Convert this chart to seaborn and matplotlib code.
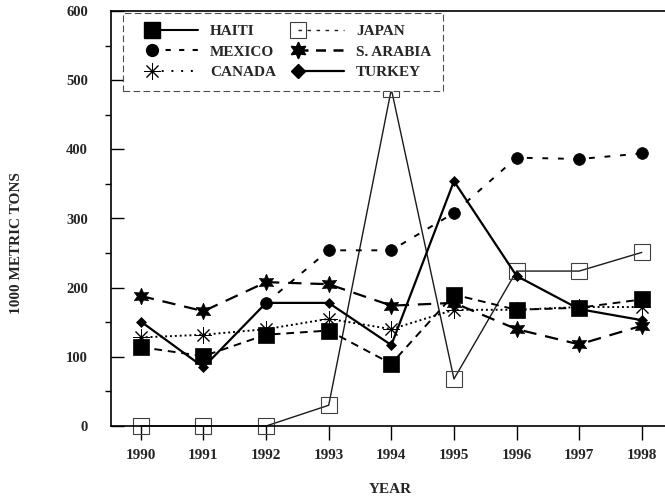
import numpy as np
import pandas as pd
import matplotlib
matplotlib.use("Agg")
import matplotlib.pyplot as plt
import seaborn as sns
from matplotlib.lines import Line2D
from matplotlib.legend_handler import HandlerLine2D
from matplotlib.ticker import MultipleLocator

# ---- data ----
years = [1990, 1991, 1992, 1993, 1994, 1995, 1996, 1997, 1998]
haiti = [114, 101, 132, 138, 90, 190, 168, 171, 183]
japan = [0, 0, 0, 30, 487, 68, 224, 224, 251]
mexico = [np.nan, np.nan, 178, 254, 254, 308, 388, 386, 394]
s_arabia = [188, 166, 208, 205, 174, 178, 140, 118, 145]
canada = [128, 132, 140, 155, 140, 168, 168, 172, 172]
turkey = [151, 85, 178, 178, 117, 354, 217, 169, 153]
series_names = ["HAITI", "MEXICO", "CANADA", "JAPAN", "S. ARABIA", "TURKEY"]
y_ticks = [0, 100, 200, 300, 400, 500, 600]

df = pd.DataFrame({"year": years, "HAITI": haiti, "JAPAN": japan, "MEXICO": mexico,
                   "S. ARABIA": s_arabia, "CANADA": canada, "TURKEY": turkey})

sns.set_style("ticks")
plt.rcParams["font.family"] = ["Liberation Serif", "DejaVu Serif"]
plt.rcParams["font.weight"] = "bold"

fig = plt.figure(figsize=(6.65, 5.0), dpi=100)
ax = fig.add_axes([0.1666, 0.148, 0.8334, 0.83])

# plot styles (as drawn in the chart body)
plot_style = {
    "JAPAN": dict(marker="s", markersize=12, mfc="none", mec="0.25", mew=0.8,
                  linestyle="-", linewidth=1.0, color="0.1", zorder=2),
    "HAITI": dict(marker="s", markersize=12, mfc="black", mec="black", mew=0.5,
                  linestyle=(0, (4, 3)), linewidth=1.4, color="black", zorder=3),
    "MEXICO": dict(marker="o", markersize=8.5, mfc="black", mec="black", mew=0.5,
                   linestyle=(0, (3, 5)), linewidth=1.4, color="black", zorder=3),
    "S. ARABIA": dict(marker=(6, 1, 0), markersize=12, mfc="black", mec="black", mew=0.5,
                      linestyle=(0, (6, 4)), linewidth=1.6, color="black", zorder=3),
    "CANADA": dict(marker=(8, 2, 0), markersize=12, mfc="black", mec="black", mew=0.7,
                   linestyle=(0, (1, 1.5)), linewidth=1.4, color="black", zorder=3),
    "TURKEY": dict(marker="D", markersize=5.5, mfc="black", mec="black", mew=0.5,
                   linestyle="-", linewidth=1.6, color="black", zorder=4),
}

for name in ["JAPAN", "HAITI", "MEXICO", "S. ARABIA", "CANADA", "TURKEY"]:
    st = dict(plot_style[name])
    sns.lineplot(data=df, x="year", y=name, ax=ax, errorbar=None, clip_on=False, **st)

ax.set_xlim(1989.52, 1998.37)
ax.set_ylim(0, 600)
ax.set_xticks(years)
ax.set_xticklabels([str(y) for y in years])
ax.set_yticks(y_ticks)
ax.yaxis.set_minor_locator(MultipleLocator(50))

ax.tick_params(axis="x", which="major", direction="out", length=10, width=1.0,
               pad=6.5, labelsize=11, color="black")
ax.tick_params(axis="x", which="minor", bottom=False)
ax.tick_params(axis="y", which="major", direction="in", length=9.5, width=1.0,
               pad=16.5, labelsize=10.5, color="black")
ax.tick_params(axis="y", which="minor", direction="out", length=4.5, width=1.0, color="black")
for lab in ax.get_xticklabels() + ax.get_yticklabels():
    lab.set_fontweight("bold")

for side in ["left", "bottom", "top"]:
    ax.spines[side].set_linewidth(1.2)
    ax.spines[side].set_color("black")
ax.spines["right"].set_visible(False)

ax.set_xlabel("YEAR", fontsize=11, fontweight="bold")
ax.set_ylabel("1000 METRIC TONS", fontsize=11, fontweight="bold")
ax.xaxis.set_label_coords(0.504, -0.137)
ax.yaxis.set_label_coords(-0.158, 0.44)


# legend: marker at the left end of the handle line
class LeftMarkerHandler(HandlerLine2D):
    def __init__(self, shift=12.6, **kw):
        super().__init__(**kw)
        self.shift = shift

    def create_artists(self, legend, orig_handle, xdescent, ydescent,
                       width, height, fontsize, trans):
        x0 = -xdescent + self.shift
        x1 = -xdescent + width
        y = (height - ydescent) / 2
        line = Line2D([x0, x1], [y, y], markevery=[0])
        self.update_prop(line, orig_handle, legend)
        line.set_transform(trans)
        return [line]


legend_style = {
    "HAITI": dict(marker="s", markersize=12, mfc="black", mec="black",
                  linestyle="-", linewidth=1.5, color="black"),
    "MEXICO": dict(marker="o", markersize=8.5, mfc="black", mec="black",
                   linestyle=(0, (2.5, 4)), linewidth=1.5, color="black"),
    "CANADA": dict(marker=(8, 2, 0), markersize=12, mfc="black", mec="black", mew=0.7,
                   linestyle=(0, (1, 4)), linewidth=1.4, color="black"),
    "JAPAN": dict(marker="s", markersize=12, mfc="none", mec="0.25", mew=0.8,
                  linestyle=(0, (2.5, 4)), linewidth=1.0, color="0.1"),
    "S. ARABIA": dict(marker=(6, 1, 0), markersize=12, mfc="black", mec="black",
                      linestyle=(0, (4, 3)), linewidth=1.8, color="black"),
    "TURKEY": dict(marker="D", markersize=7.5, mfc="black", mec="black",
                   linestyle="-", linewidth=1.6, color="black"),
}
handles = [Line2D([], [], **legend_style[n]) for n in series_names]
hmap = {h: LeftMarkerHandler() for h in handles}
leg = fig.legend(handles, series_names, handler_map=hmap, ncol=2,
                 loc="upper left", bbox_to_anchor=(123 / 665, 1 - 13 / 500),
                 borderaxespad=0, prop=dict(family="Liberation Serif", weight="bold", size=11),
                 handlelength=4.15, handletextpad=0.785, borderpad=0.75,
                 labelspacing=0.45, columnspacing=0.3, numpoints=1,
                 fancybox=False, frameon=True)
fr = leg.get_frame()
fr.set_linestyle((0, (6, 3)))
fr.set_linewidth(0.8)
fr.set_edgecolor("0.3")
fr.set_facecolor("white")
fr.set_alpha(1)

fig.savefig("out.png", dpi=100)
